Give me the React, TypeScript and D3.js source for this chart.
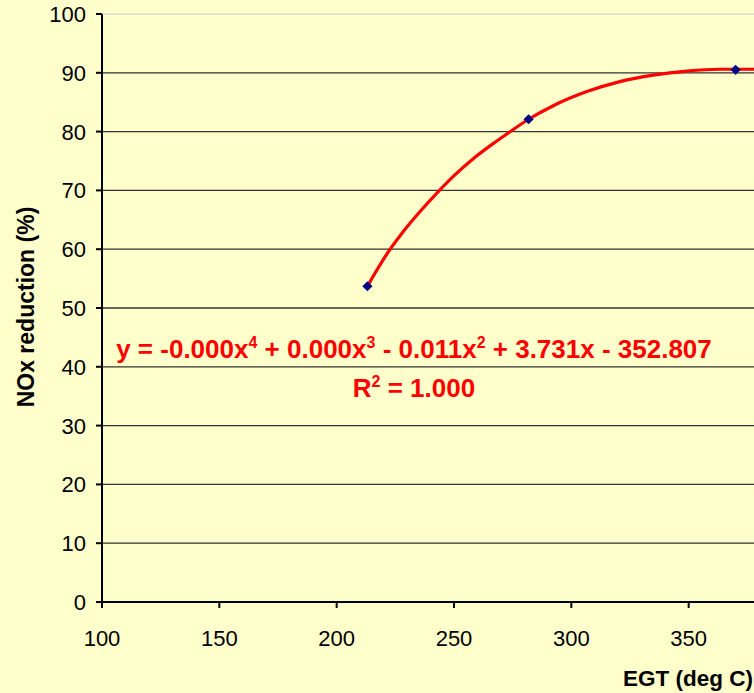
import React from 'react';
import * as d3 from 'd3';

// measured points (EGT deg C, NOx reduction %)
const egt = [213.1, 281.8, 370];
const noxReduction = [53.7, 82.1, 90.5];

// polynomial trendline
const trendX = [213.1, 220.6, 228.4, 236.2, 243.3, 249.7, 258.2, 266.8, 272.5, 281.8, 292.3, 306.6, 320.7, 334.9, 349.2, 363.4, 378];
const trendY = [53.7, 58.7, 63.0, 66.7, 69.8, 72.4, 75.4, 78.0, 79.6, 82.1, 84.4, 86.8, 88.5, 89.6, 90.3, 90.6, 90.6];

const xTicks = [100, 150, 200, 250, 300, 350];
const yTicks = [0, 10, 20, 30, 40, 50, 60, 70, 80, 90, 100];

const xTitle = 'EGT (deg C)';
const yTitle = 'NOx reduction (%)';
const eqParts = [
  { t: 'y = -0.000x' }, { t: '4', sup: true },
  { t: ' + 0.000x' }, { t: '3', sup: true },
  { t: ' - 0.011x' }, { t: '2', sup: true },
  { t: ' + 3.731x - 352.807' },
];
const r2Parts = [{ t: 'R' }, { t: '2', sup: true }, { t: ' = 1.000' }];

const W = 754;
const H = 693;
const bg = '#FFFFCC';
const font = 'Arial, "Liberation Sans", sans-serif';

export default function App() {
  const x = d3.scaleLinear().domain([100, 400]).range([102, 806]);
  const y = d3.scaleLinear().domain([0, 100]).range([602, 14]);

  const trend = trendX.map((v, i) => [v, trendY[i]] as [number, number]);
  const line = d3.line<[number, number]>()
    .x(d => x(d[0]))
    .y(d => y(d[1]))
    .curve(d3.curveMonotoneX);

  // square turned 45deg -> Excel-style diamond
  const diamond = d3.symbol().type(d3.symbolSquare).size(52)();

  const renderParts = (parts: { t: string; sup?: boolean }[]) =>
    parts.map((p, i) => p.sup
      ? <tspan key={i} fontSize={16} dy={-10}>{p.t}</tspan>
      : <tspan key={i} dy={i > 0 && parts[i - 1].sup ? 10 : 0}>{p.t}</tspan>);

  return (
    <svg width={W} height={H} style={{ position: 'absolute', left: 0, top: 0, background: bg }}>
      <rect width={W} height={H} fill={bg} />

      {/* plot area top border */}
      <line x1={x(100)} x2={W} y1={y(100)} y2={y(100)} stroke="#dcdcd0" strokeWidth={1.5} />

      {/* gridlines */}
      {yTicks.filter(t => t > 0 && t < 100).map(t => (
        <line key={t} x1={x(100)} x2={W} y1={y(t)} y2={y(t)} stroke="#333" strokeWidth={1.3} />
      ))}

      {/* axes */}
      <line x1={x(100)} x2={x(100)} y1={y(100)} y2={y(0)} stroke="#000" strokeWidth={2} />
      <line x1={x(100)} x2={W} y1={y(0)} y2={y(0)} stroke="#000" strokeWidth={2} />
      {yTicks.map(t => (
        <g key={t}>
          <line x1={x(100) - 6} x2={x(100)} y1={y(t)} y2={y(t)} stroke="#000" strokeWidth={2} />
          <text x={86} y={y(t)} dy="0.36em" textAnchor="end" fontFamily={font} fontSize={22}>{t}</text>
        </g>
      ))}
      {xTicks.map(t => (
        <g key={t}>
          <line x1={x(t)} x2={x(t)} y1={y(0)} y2={y(0) + 6} stroke="#000" strokeWidth={2} />
          <text x={x(t)} y={646} textAnchor="middle" fontFamily={font} fontSize={22}>{t}</text>
        </g>
      ))}

      {/* axis titles */}
      <text x={623} y={686} fontFamily={font} fontSize={22.5} fontWeight="bold">{xTitle}</text>
      <text transform="translate(34,307) rotate(-90)" textAnchor="middle" fontFamily={font} fontSize={23} fontWeight="bold">{yTitle}</text>

      {/* trendline */}
      <path d={line(trend) || ''} fill="none" stroke="#FF0000" strokeWidth={3.2} />

      {/* data points */}
      {egt.map((v, i) => (
        <path key={i} d={diamond || ''} transform={`translate(${x(v)},${y(noxReduction[i])}) rotate(45)`} fill="#000080" />
      ))}

      {/* trendline equation */}
      <text x={414} y={358} textAnchor="middle" fontFamily={font} fontSize={26} fontWeight="bold" fill="#FF0000">
        {renderParts(eqParts)}
      </text>
      <text x={414} y={397} textAnchor="middle" fontFamily={font} fontSize={26} fontWeight="bold" fill="#FF0000">
        {renderParts(r2Parts)}
      </text>
    </svg>
  );
}
